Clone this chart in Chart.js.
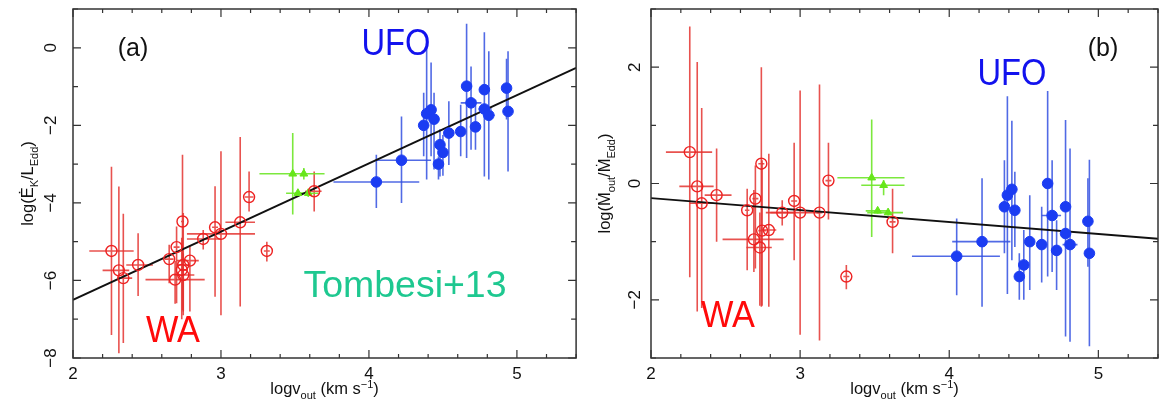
<!DOCTYPE html>
<html>
<head>
<meta charset="utf-8">
<script src="https://cdn.jsdelivr.net/npm/chart.js@4.4.0/dist/chart.umd.min.js"></script>
<style>
  html, body { margin: 0; padding: 0; background: #fff; }
  #wrap { position: relative; width: 1166px; height: 404px; }
  .panel { position: absolute; top: 0; width: 583px; height: 404px; }
</style>
</head>
<body>
<div id="wrap">
  <div class="panel" style="left:0"><canvas id="chartA" width="583" height="404"></canvas></div>
  <div class="panel" style="left:583px"><canvas id="chartB" width="583" height="404"></canvas></div>
</div>
<script>
// each row: [logv, value, vLo, vHi, valueLo, valueHi]
const waA = [
  [2.26, -5.24, 2.11, 2.41, -7.41, -3.07],
  [2.31, -5.74, 2.20, 2.38, -7.88, -3.58],
  [2.34, -5.94, 2.30, 2.40, -7.61, -4.28],
  [2.44, -5.60, 2.36, 2.54, -6.40, -4.78],
  [2.65, -5.45, 2.62, 2.68, -6.07, -5.08],
  [2.70, -5.14, 2.68, 2.72, -6.59, -4.61],
  [2.69, -5.98, 2.49, 2.89, -6.60, -5.50],
  [2.74, -4.48, 2.73, 2.75, -6.76, -2.76],
  [2.745, -5.60, 2.70, 2.79, -6.80, -4.26],
  [2.735, -5.73, 2.72, 2.75, -7.00, -4.90],
  [2.745, -5.86, 2.68, 2.82, -6.90, -5.30],
  [2.79, -5.49, 2.70, 2.85, -6.80, -5.12],
  [2.88, -4.93, 2.77, 3.00, -5.20, -4.70],
  [2.96, -4.63, 2.94, 2.98, -6.42, -3.57],
  [3.00, -4.80, 2.77, 3.23, -6.90, -2.67],
  [3.13, -4.50, 3.03, 3.23, -6.67, -2.30],
  [3.19, -3.85, 3.16, 3.22, -4.22, -3.19],
  [3.31, -5.24, 3.29, 3.33, -5.51, -5.00],
  [3.63, -3.70, 3.57, 3.68, -4.22, -3.19]
];
const midA = [
  [3.485, -3.25, 3.26, 3.70, -4.30, -2.20],
  [3.56, -3.25, 3.55, 3.57, -3.40, -3.10],
  [3.52, -3.75, 3.44, 3.60, -3.85, -3.65],
  [3.59, -3.75, 3.50, 3.66, -3.85, -3.65]
];
const ufoA = [
  [4.05, -3.46, 3.76, 4.34, -4.13, -2.76],
  [4.22, -2.90, 4.05, 4.42, -4.00, -1.77],
  [4.37, -2.00, 4.34, 4.40, -2.80, -1.16],
  [4.39, -1.70, 4.37, 4.41, -3.40, 0.04],
  [4.42, -1.60, 4.40, 4.44, -2.80, -0.38],
  [4.44, -1.84, 4.42, 4.46, -3.14, -1.16],
  [4.48, -2.50, 4.46, 4.50, -3.32, -2.10],
  [4.50, -2.70, 4.48, 4.52, -3.30, -2.25],
  [4.47, -3.00, 4.45, 4.49, -3.40, -2.80],
  [4.54, -2.20, 4.52, 4.56, -3.02, -1.38],
  [4.62, -2.16, 4.60, 4.64, -2.80, -1.47],
  [4.66, -0.99, 4.64, 4.68, -2.84, 0.62],
  [4.69, -1.42, 4.62, 4.76, -2.63, -0.48],
  [4.72, -2.04, 4.70, 4.74, -2.63, -1.34],
  [4.78, -1.08, 4.76, 4.80, -3.32, 0.40],
  [4.78, -1.58, 4.74, 4.83, -1.70, -1.46],
  [4.81, -1.74, 4.77, 4.85, -3.40, -0.09],
  [4.93, -1.04, 4.91, 4.95, -1.85, -0.28],
  [4.94, -1.64, 4.92, 4.96, -3.19, -0.09]
];
const fitA = [[2, -6.5], [5.4, -0.52]];

const waB = [
  [2.26, 0.54, 2.10, 2.41, -1.61, 2.70],
  [2.31, -0.05, 2.19, 2.42, -2.20, 2.09],
  [2.34, -0.34, 2.26, 2.42, -2.14, 1.30],
  [2.44, -0.20, 2.36, 2.54, -1.00, 0.60],
  [2.645, -0.46, 2.63, 2.66, -1.49, -0.09],
  [2.70, -0.26, 2.68, 2.72, -1.46, 0.31],
  [2.69, -0.96, 2.48, 2.89, -1.52, -0.11],
  [2.74, 0.34, 2.72, 2.76, -2.12, 2.00],
  [2.73, -1.10, 2.64, 2.81, -2.10, -0.50],
  [2.745, -0.81, 2.72, 2.77, -2.10, 0.40],
  [2.79, -0.80, 2.74, 2.84, -2.12, 0.51],
  [2.88, -0.50, 2.77, 2.97, -0.72, -0.29],
  [2.96, -0.30, 2.94, 2.98, -1.32, 0.70],
  [3.00, -0.50, 2.80, 3.13, -2.60, 1.60],
  [3.13, -0.50, 3.11, 3.15, -2.70, 1.70],
  [3.19, 0.05, 3.17, 3.21, -0.62, 0.70],
  [3.31, -1.60, 3.29, 3.33, -1.82, -1.40],
  [3.62, -0.66, 3.60, 3.64, -1.20, -0.09]
];
const midB = [
  [3.48, 0.10, 3.25, 3.70, -0.92, 1.10],
  [3.56, -0.03, 3.41, 3.70, -0.20, 0.06],
  [3.52, -0.47, 3.44, 3.60, -0.52, -0.42],
  [3.59, -0.50, 3.45, 3.69, -0.55, -0.45]
];
const ufoB = [
  [4.05, -1.25, 3.75, 4.34, -1.92, -0.60],
  [4.22, -1.00, 4.02, 4.41, -2.12, 0.09],
  [4.37, -0.40, 4.35, 4.39, -1.20, 0.40],
  [4.39, -0.20, 4.37, 4.41, -1.90, 1.50],
  [4.42, -0.10, 4.40, 4.44, -1.32, 1.08],
  [4.44, -0.46, 4.42, 4.46, -1.09, 0.20],
  [4.47, -1.60, 4.45, 4.49, -2.00, -1.20],
  [4.50, -1.40, 4.48, 4.52, -2.00, -0.80],
  [4.54, -1.00, 4.52, 4.56, -1.83, -0.20],
  [4.62, -1.05, 4.60, 4.64, -1.70, -0.40],
  [4.66, 0.00, 4.64, 4.68, -1.60, 1.59],
  [4.69, -0.55, 4.62, 4.75, -1.52, 0.40],
  [4.72, -1.15, 4.70, 4.74, -1.83, -0.63],
  [4.78, -0.40, 4.76, 4.80, -2.63, 1.09],
  [4.78, -0.86, 4.75, 4.81, -0.90, -0.82],
  [4.81, -1.05, 4.76, 4.86, -2.72, 0.60],
  [4.93, -0.65, 4.91, 4.95, -1.43, 0.09],
  [4.94, -1.20, 4.92, 4.96, -2.80, 0.41]
];
const fitB = [[2, -0.25], [5.4, -0.95]];

const xTickLabels = [2, 3, 4, 5];
const yTickLabelsA = [-8, -6, -4, -2, 0];
const yTickLabelsB = [-2, 0, 2];

const FONT = '"Liberation Sans", Arial, "DejaVu Sans", sans-serif';
const RED = "#ee2222", RED_BAR = "rgba(228,52,48,0.85)";
const GREEN = "#66e61a", GREEN_BAR = "rgba(110,230,40,0.9)";
const BLUE = "#1b3cf2", BLUE_BAR = "rgba(50,80,225,0.85)";

function pts(rows) { return rows.map(r => ({ x: r[0], y: r[1] })); }

// text with sub/superscripts: parts = [[text, kind]] kind 0 normal, 1 sub, 2 sup
function drawRich(ctx, parts, cx, baseY, size) {
  const small = Math.round(size * 0.68);
  const widths = parts.map(([t, k]) => {
    ctx.font = `${k ? small : size}px ${FONT}`;
    return ctx.measureText(t).width;
  });
  let x = cx - widths.reduce((a, b) => a + b, 0) / 2;
  ctx.textAlign = "left";
  ctx.textBaseline = "alphabetic";
  parts.forEach(([t, k], i) => {
    ctx.font = `${k ? small : size}px ${FONT}`;
    const dy = k === 1 ? size * 0.3 : (k === 2 ? -size * 0.38 : 0);
    ctx.fillText(t, x, baseY + dy);
    x += widths[i];
  });
}

function fitText(ctx, t, cx, baseY, size, width, color) {
  ctx.save();
  ctx.font = `${size}px ${FONT}`;
  ctx.fillStyle = color;
  ctx.textAlign = "center";
  ctx.textBaseline = "alphabetic";
  const s = width ? width / ctx.measureText(t).width : 1;
  ctx.translate(cx, baseY);
  ctx.scale(s, 1);
  ctx.fillText(t, 0, 0);
  ctx.restore();
}

const errorBars = {
  id: "errorBars",
  beforeDatasetsDraw(chart) {
    const { ctx, chartArea: a, scales: { x, y } } = chart;
    ctx.save();
    ctx.beginPath();
    ctx.rect(a.left, a.top, a.right - a.left, a.bottom - a.top);
    ctx.clip();
    chart.data.datasets.forEach(ds => {
      if (!ds.rows) return;
      ctx.strokeStyle = ds.barColor;
      ctx.lineWidth = 1.6;
      ds.rows.forEach(r => {
        const px = x.getPixelForValue(r[0]), py = y.getPixelForValue(r[1]);
        ctx.beginPath();
        ctx.moveTo(x.getPixelForValue(r[2]), py);
        ctx.lineTo(x.getPixelForValue(r[3]), py);
        ctx.moveTo(px, y.getPixelForValue(r[4]));
        ctx.lineTo(px, y.getPixelForValue(r[5]));
        ctx.stroke();
      });
    });
    ctx.restore();
  }
};

const frame = {
  id: "frame",
  afterDraw(chart) {
    const p = chart.options.plugins.frame;
    const { ctx, chartArea: a, scales: { x, y } } = chart;
    ctx.save();
    ctx.strokeStyle = "#333";
    ctx.lineWidth = 1.5;
    ctx.strokeRect(a.left, a.top, a.right - a.left, a.bottom - a.top);

    // inward ticks on all four sides
    ctx.lineWidth = 1.2;
    ctx.beginPath();
    for (let k = 0; k <= 17; k++) {
      const v = 2 + k * 0.2;
      const px = x.getPixelForValue(v);
      const len = k % 5 === 0 ? 8 : 4;
      ctx.moveTo(px, a.bottom); ctx.lineTo(px, a.bottom - len);
      ctx.moveTo(px, a.top); ctx.lineTo(px, a.top + len);
    }
    for (let v = Math.ceil(y.min); v <= y.max; v++) {
      const py = y.getPixelForValue(v);
      const len = v % 2 === 0 ? 8 : 5;
      ctx.moveTo(a.left, py); ctx.lineTo(a.left + len, py);
      ctx.moveTo(a.right, py); ctx.lineTo(a.right - len, py);
    }
    ctx.stroke();

    ctx.fillStyle = "#111";
    ctx.font = `17px ${FONT}`;
    ctx.textAlign = "center";
    ctx.textBaseline = "alphabetic";
    xTickLabels.forEach(v => ctx.fillText(String(v), x.getPixelForValue(v), a.bottom + 21));
    p.yTicks.forEach(v => {
      ctx.save();
      ctx.translate(p.yLabelX, y.getPixelForValue(v));
      ctx.rotate(-Math.PI / 2);
      ctx.fillText(v < 0 ? "\u2212" + Math.abs(v) : String(v), 0, 0);
      ctx.restore();
    });

    drawRich(ctx, [["logv", 0], ["out", 1], [" (km s", 0], ["\u22121", 2], [")", 0]],
      (a.left + a.right) / 2, 394, 16.5);
    ctx.save();
    ctx.translate(p.yTitleX, (a.top + a.bottom) / 2);
    ctx.rotate(-Math.PI / 2);
    drawRich(ctx, p.yTitle, 0, 0, 16.5);
    ctx.restore();

    p.notes.forEach(n => fitText(ctx, n.t, n.x, n.y, n.size, n.w, n.color));
    ctx.restore();
  }
};

function makePanel(id, rows, fit, yMin, yMax, pad, extra) {
  const [wa, mid, ufo] = rows;
  return new Chart(document.getElementById(id), {
    type: "scatter",
    data: {
      datasets: [
        { data: pts(wa), rows: wa, barColor: RED_BAR, pointStyle: "circle", pointRadius: 5.5,
          borderColor: RED, borderWidth: 1.4, backgroundColor: "rgba(0,0,0,0)" },
        { data: pts(mid), rows: mid, barColor: GREEN_BAR, pointStyle: "triangle", pointRadius: 4.5,
          borderColor: GREEN, borderWidth: 1, backgroundColor: GREEN },
        { data: pts(ufo), rows: ufo, barColor: BLUE_BAR, pointStyle: "circle", pointRadius: 5.3,
          borderColor: BLUE, borderWidth: 1, backgroundColor: BLUE },
        { type: "line", data: pts(fit), borderColor: "#111", borderWidth: 1.8, pointRadius: 0,
          fill: false, tension: 0 }
      ]
    },
    options: {
      responsive: false,
      animation: false,
      devicePixelRatio: 1,
      layout: { padding: pad },
      scales: {
        x: { type: "linear", min: 2, max: 5.4,
             ticks: { display: false }, grid: { display: false, drawTicks: false }, border: { display: false } },
        y: { type: "linear", min: yMin, max: yMax,
             ticks: { display: false }, grid: { display: false, drawTicks: false }, border: { display: false } }
      },
      plugins: { legend: { display: false }, tooltip: { enabled: false }, frame: extra }
    },
    plugins: [errorBars, frame]
  });
}

makePanel("chartA", [waA, midA, ufoA], fitA, -8, 1,
  { left: 73, right: 4, top: 9, bottom: 46 },
  {
    yTicks: yTickLabelsA, yLabelX: 56, yTitleX: 33,
    yTitle: [["log(\u0116", 0], ["K", 1], ["/L", 0], ["Edd", 1], [")", 0]],
    notes: [
      { t: "(a)", x: 133, y: 56, size: 25, w: null, color: "#111" },
      { t: "UFO", x: 396, y: 55, size: 37, w: 69, color: "#1212ee" },
      { t: "Tombesi+13", x: 405, y: 297, size: 37, w: 203, color: "#1ec890" },
      { t: "WA", x: 173, y: 342, size: 37, w: 54, color: "#ff0a0a" }
    ]
  });

makePanel("chartB", [waB, midB, ufoB], fitB, -3, 3,
  { left: 68, right: 8, top: 9, bottom: 46 },
  {
    yTicks: yTickLabelsB, yLabelX: 57, yTitleX: 27,
    yTitle: [["log(\u1E40", 0], ["out", 1], ["/\u1E40", 0], ["Edd", 1], [")", 0]],
    notes: [
      { t: "(b)", x: 520, y: 56, size: 25, w: null, color: "#111" },
      { t: "UFO", x: 429, y: 85, size: 37, w: 69, color: "#1212ee" },
      { t: "WA", x: 145, y: 327, size: 37, w: 54, color: "#ff0a0a" }
    ]
  });
</script>
</body>
</html>
